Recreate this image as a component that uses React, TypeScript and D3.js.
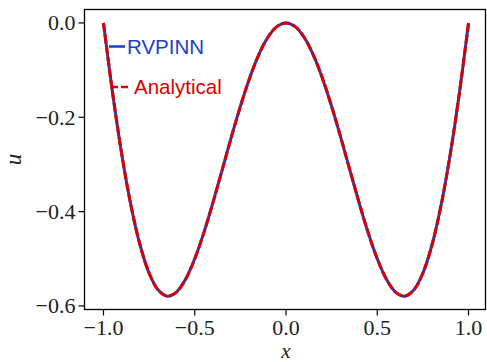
import React from "react";
import * as d3 from "d3";

// x in steps of 0.05
const xValues = d3.range(41).map((i) => -1 + i * 0.05);
const analyticalU = [
  0, -0.1486, -0.2781, -0.3859, -0.4702, -0.5303, -0.5663, -0.5792, -0.5706,
  -0.5432, -0.5, -0.4445, -0.3804, -0.3119, -0.2427, -0.1768, -0.1176, -0.0681,
  -0.0309, -0.0078, 0, -0.0078, -0.0309, -0.0681, -0.1176, -0.1768, -0.2427,
  -0.3119, -0.3804, -0.4445, -0.5, -0.5432, -0.5706, -0.5792, -0.5663, -0.5303,
  -0.4702, -0.3859, -0.2781, -0.1486, 0,
];
const rvpinnU = [
  0, -0.1486, -0.2781, -0.3859, -0.4702, -0.5303, -0.5663, -0.5792, -0.5706,
  -0.5432, -0.5, -0.4445, -0.3804, -0.3119, -0.2427, -0.1768, -0.1176, -0.0681,
  -0.0309, -0.0078, 0, -0.0078, -0.0309, -0.0681, -0.1176, -0.1768, -0.2427,
  -0.3119, -0.3804, -0.4445, -0.5, -0.5432, -0.5706, -0.5792, -0.5663, -0.5303,
  -0.4702, -0.3859, -0.2781, -0.1486, 0,
];
const xTicks = [-1.0, -0.5, 0.0, 0.5, 1.0];
const yTicks = [0.0, -0.2, -0.4, -0.6];

const blue = "#1c3fc6";
const red = "#d80000";

const fmt = (v: number) => (v < 0 ? "\u2212" : "") + Math.abs(v).toFixed(1);

const App = () => {
  const width = 487;
  const height = 362;
  const left = 84.5;
  const right = 485.5;
  const top = 9.5;
  const bottom = 309.5;

  const xScale = d3.scaleLinear().domain([-1.104, 1.093]).range([left, right]);
  const yScale = d3.scaleLinear().domain([-0.6075, 0.0285]).range([bottom, top]);

  const line = d3
    .line<[number, number]>()
    .x((d) => xScale(d[0]))
    .y((d) => yScale(d[1]))
    .curve(d3.curveCatmullRom);

  const rvpinnPts = xValues.map((x, i) => [x, rvpinnU[i]] as [number, number]);
  const analyticalPts = xValues.map(
    (x, i) => [x, analyticalU[i]] as [number, number]
  );

  const tickFont = "'Liberation Serif', serif";

  return (
    <svg
      width={width}
      height={height}
      style={{ position: "absolute", left: 0, top: 0, background: "white" }}
    >
      {/* curves */}
      <path d={line(rvpinnPts) || ""} fill="none" stroke={blue} strokeWidth={3} />
      <path
        d={line(analyticalPts) || ""}
        fill="none"
        stroke={red}
        strokeWidth={3}
        strokeDasharray="9 2.5"
      />

      {/* frame */}
      <rect
        x={left}
        y={top}
        width={right - left}
        height={bottom - top}
        fill="none"
        stroke="black"
        strokeWidth={1.3}
      />

      {/* x axis */}
      {xTicks.map((t) => (
        <g key={t} transform={`translate(${xScale(t)}, ${bottom})`}>
          <line y1={0} y2={6} stroke="black" strokeWidth={1.2} />
          <text
            y={25}
            textAnchor="middle"
            fontFamily={tickFont}
            fontSize={22}
            fill="#222"
          >
            {fmt(t)}
          </text>
        </g>
      ))}
      <text
        x={xScale(0)}
        y={358}
        textAnchor="middle"
        fontFamily={tickFont}
        fontStyle="italic"
        fontSize={21}
        fill="#222"
      >
        x
      </text>

      {/* y axis */}
      {yTicks.map((t) => (
        <g key={t} transform={`translate(${left}, ${yScale(t)})`}>
          <line x1={-6} x2={0} stroke="black" strokeWidth={1.2} />
          <text
            x={-9}
            y={7.5}
            textAnchor="end"
            fontFamily={tickFont}
            fontSize={22}
            fill="#222"
          >
            {fmt(t)}
          </text>
        </g>
      ))}
      <text
        transform={`translate(21, ${(top + bottom) / 2}) rotate(-90)`}
        textAnchor="middle"
        fontFamily={tickFont}
        fontStyle="italic"
        fontSize={23}
        fill="#222"
      >
        u
      </text>

      {/* legend */}
      <line x1={109} x2={125} y1={46.5} y2={46.5} stroke={blue} strokeWidth={2.5} />
      <text
        x={127}
        y={54}
        fontFamily="'Liberation Sans', sans-serif"
        fontSize={20.5}
        fill={blue}
      >
        RVPINN
      </text>
      <line
        x1={111}
        x2={131}
        y1={87}
        y2={87}
        stroke={red}
        strokeWidth={2.5}
        strokeDasharray="7 3"
      />
      <text
        x={134}
        y={94}
        fontFamily="'Liberation Sans', sans-serif"
        fontSize={20.5}
        fill={red}
      >
        Analytical
      </text>
    </svg>
  );
};

export default App;
